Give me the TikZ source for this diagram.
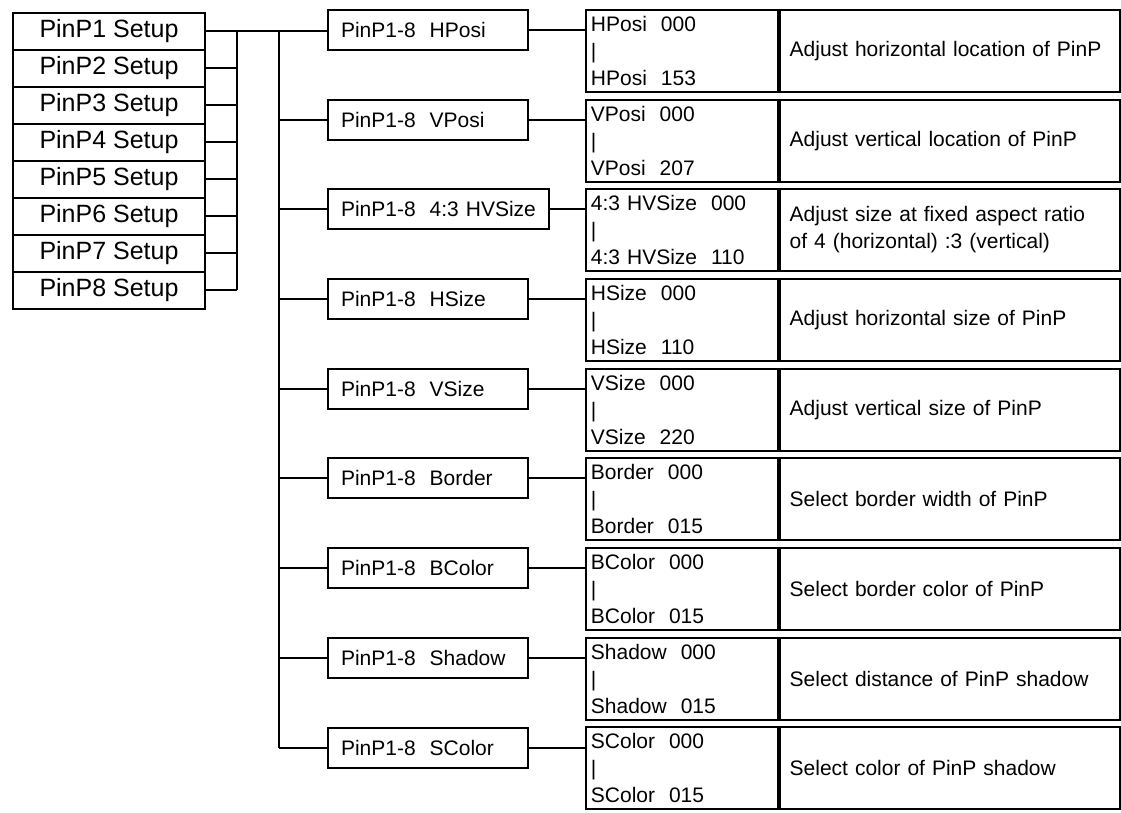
\documentclass[tikz,border=0pt]{standalone}
\usepackage{fontspec}
\setmainfont{Liberation Sans}
\usepackage{tikz}

\begin{document}
\begin{tikzpicture}[x=1pt,y=-1pt,line width=1.5pt,
    setupbox/.style={draw,line width=2pt,minimum width=192pt,minimum height=37pt,inner sep=0pt,font=\fontsize{25}{30}\selectfont},
    itembox/.style={draw,line width=2pt,anchor=west,minimum height=40pt,inner xsep=13pt,inner ysep=0pt,text width=174pt,align=left,font=\fontsize{21}{26}\selectfont},
    rangebox/.style={draw,line width=1.8pt,anchor=west,minimum height=82pt,inner xsep=5pt,inner ysep=0pt,text width=182pt,align=left,font=\fontsize{21}{27}\selectfont},
    descbox/.style={draw,line width=1.8pt,anchor=west,minimum height=82pt,inner xsep=10pt,inner ysep=0pt,text width=320pt,align=left,font=\fontsize{21}{27}\selectfont}]
    \useasboundingbox (0,0) rectangle (1121,812);

    % left column of setup entries
    \node[setupbox] (s1) at (109,31) {PinP1 Setup};
    \node[setupbox] (s2) at (109,68) {PinP2 Setup};
    \node[setupbox] (s3) at (109,105) {PinP3 Setup};
    \node[setupbox] (s4) at (109,142) {PinP4 Setup};
    \node[setupbox] (s5) at (109,179) {PinP5 Setup};
    \node[setupbox] (s6) at (109,216) {PinP6 Setup};
    \node[setupbox] (s7) at (109,253) {PinP7 Setup};
    \node[setupbox] (s8) at (109,290) {PinP8 Setup};

    % menu items
    \node[itembox] (m1) at (327,30) {PinP1-8~~HPosi};
    \node[itembox] (m2) at (327,120) {PinP1-8~~VPosi};
    \node[itembox,text width=195pt] (m3) at (327,209) {PinP1-8~~4:3 HVSize};
    \node[itembox] (m4) at (327,299) {PinP1-8~~HSize};
    \node[itembox] (m5) at (327,389) {PinP1-8~~VSize};
    \node[itembox] (m6) at (327,478) {PinP1-8~~Border};
    \node[itembox] (m7) at (327,568) {PinP1-8~~BColor};
    \node[itembox] (m8) at (327,658) {PinP1-8~~Shadow};
    \node[itembox] (m9) at (327,748) {PinP1-8~~SColor};

    % value ranges
    \node[rangebox] (r1) at (585,51) {HPosi~~000\\|\\HPosi~~153};
    \node[rangebox] (r2) at (585,141) {VPosi~~000\\|\\VPosi~~207};
    \node[rangebox] (r3) at (585,230) {4:3 HVSize~~000\\|\\4:3 HVSize~~110};
    \node[rangebox] (r4) at (585,320) {HSize~~000\\|\\HSize~~110};
    \node[rangebox] (r5) at (585,410) {VSize~~000\\|\\VSize~~220};
    \node[rangebox] (r6) at (585,499) {Border~~000\\|\\Border~~015};
    \node[rangebox] (r7) at (585,589) {BColor~~000\\|\\BColor~~015};
    \node[rangebox] (r8) at (585,679) {Shadow~~000\\|\\Shadow~~015};
    \node[rangebox] (r9) at (585,768) {SColor~~000\\|\\SColor~~015};

    % descriptions
    \node[descbox] (d1) at (r1.east) {Adjust horizontal location of PinP};
    \node[descbox] (d2) at (r2.east) {Adjust vertical location of PinP};
    \node[descbox] (d3) at (r3.east) {Adjust size at fixed aspect ratio\\of 4 (horizontal) :3 (vertical)};
    \node[descbox] (d4) at (r4.east) {Adjust horizontal size of PinP};
    \node[descbox] (d5) at (r5.east) {Adjust vertical size of PinP};
    \node[descbox] (d6) at (r6.east) {Select border width of PinP};
    \node[descbox] (d7) at (r7.east) {Select border color of PinP};
    \node[descbox] (d8) at (r8.east) {Select distance of PinP shadow};
    \node[descbox] (d9) at (r9.east) {Select color of PinP shadow};

    % buses
    \coordinate (bus1) at (237,0);
    \coordinate (bus2) at (279,0);
    \draw (s1.east -| bus1) -- (s8.east -| bus1);
    \draw (s1.east -| bus2) -- (m9.west -| bus2);
    \draw (s1.east) -- (s1.east -| m1.west);
    \draw (s2.east) -- (s2.east -| bus1);
    \draw (s3.east) -- (s3.east -| bus1);
    \draw (s4.east) -- (s4.east -| bus1);
    \draw (s5.east) -- (s5.east -| bus1);
    \draw (s6.east) -- (s6.east -| bus1);
    \draw (s7.east) -- (s7.east -| bus1);
    \draw (s8.east) -- (s8.east -| bus1);
    \draw (m2.west -| bus2) -- (m2.west);
    \draw (m3.west -| bus2) -- (m3.west);
    \draw (m4.west -| bus2) -- (m4.west);
    \draw (m5.west -| bus2) -- (m5.west);
    \draw (m6.west -| bus2) -- (m6.west);
    \draw (m7.west -| bus2) -- (m7.west);
    \draw (m8.west -| bus2) -- (m8.west);
    \draw (m9.west -| bus2) -- (m9.west);

    % items to ranges
    \draw (m1.east) -- (m1.east -| r1.west);
    \draw (m2.east) -- (m2.east -| r2.west);
    \draw (m3.east) -- (m3.east -| r3.west);
    \draw (m4.east) -- (m4.east -| r4.west);
    \draw (m5.east) -- (m5.east -| r5.west);
    \draw (m6.east) -- (m6.east -| r6.west);
    \draw (m7.east) -- (m7.east -| r7.west);
    \draw (m8.east) -- (m8.east -| r8.west);
    \draw (m9.east) -- (m9.east -| r9.west);
\end{tikzpicture}
\end{document}
